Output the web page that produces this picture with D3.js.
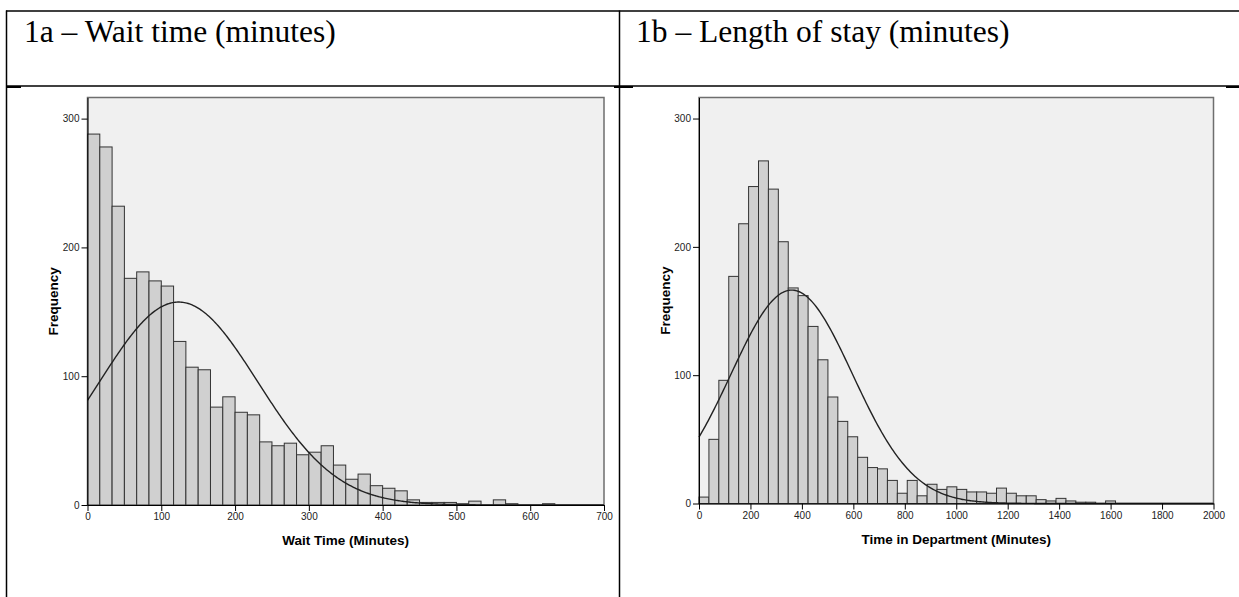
<!DOCTYPE html>
<html>
<head>
<meta charset="utf-8">
<script src="https://cdn.jsdelivr.net/npm/d3@7"></script>
<style>
  body { margin: 0; background: #fff; }
  .cell-title { font-family: 'Times New Roman', 'Liberation Serif', serif; font-size: 31.5px; fill: #000; }
  .hist__axis text { font-family: Arial, 'Liberation Sans', sans-serif; font-size: 10px; fill: #222; }
  .hist__axis path, .hist__axis line { stroke: #000; }
  .hist__label { font-family: Arial, 'Liberation Sans', sans-serif; font-size: 13.5px; font-weight: bold; fill: #000; }
</style>
</head>
<body>
<div id="chart"></div>
<script>
// 1a - wait time, bins of 700/42 minutes starting at 0
const waitCounts = [288, 278, 232, 176, 181, 174, 170, 127, 107, 105, 76, 84, 72, 70, 49, 46, 48, 39, 41, 46,
  31, 20, 24, 15, 13, 11, 4, 2, 2, 2, 1, 3, 0, 4, 1, 0, 0, 1];
const waitBinWidth = 700 / 42;
const waitTicks = [0, 100, 200, 300, 400, 500, 600, 700];
const waitMean = 123.5;
const waitSd = 107.3;

// 1b - length of stay, bins of ~38.55 minutes starting at 0
const stayCounts = [5, 50, 96, 177, 218, 247, 267, 245, 204, 168, 162, 138, 112, 83, 64, 52, 36, 28, 27, 18,
  8, 18, 6, 15, 11, 13, 11, 9, 9, 8, 12, 8, 6, 6, 3, 2, 4, 2, 1, 1, 0, 2];
const stayBinWidth = 38.55;
const stayTicks = [0, 200, 400, 600, 800, 1000, 1200, 1400, 1600, 1800, 2000];
const stayMean = 360.5;
const staySd = 236;

const freqTicks = [0, 100, 200, 300];

const width = 1239;
const height = 597;

const svg = d3.select('#chart')
  .append('svg')
  .attr('width', width)
  .attr('height', height);

svg.append('rect')
  .attr('width', width)
  .attr('height', height)
  .attr('fill', '#fff');

// table borders of the document the charts sit in
const table = svg.append('g')
  .attr('stroke', '#000')
  .attr('stroke-width', 1.5);

table.append('line').attr('x1', 6).attr('x2', width).attr('y1', 11).attr('y2', 11);
table.append('line').attr('x1', 6).attr('x2', width).attr('y1', 86).attr('y2', 86);
table.append('line').attr('x1', 6.5).attr('x2', 6.5).attr('y1', 10.5).attr('y2', height);
table.append('line').attr('x1', 619.5).attr('x2', 619.5).attr('y1', 10.5).attr('y2', height);
[[6, 21], [614, 633], [1226, 1239]].forEach(([a, b]) => {
  table.append('line').attr('x1', a).attr('x2', b).attr('y1', 87).attr('y2', 87).attr('stroke-width', 2);
});

svg.append('text').attr('class', 'cell-title').attr('x', 24).attr('y', 42)
  .text('1a – Wait time (minutes)');
svg.append('text').attr('class', 'cell-title').attr('x', 636).attr('y', 42)
  .text('1b – Length of stay (minutes)');

class Histogram {
  constructor(parent, options) {
    const defaults = {
      left: 87.5,
      right: 604,
      top: 97.5,
      bottom: 505,
      yMax: 316.4,
      labelX: 53,
    };

    this.parent = parent;
    Object.assign(this, defaults, options);

    this.init();
  }

  init() {
    const { parent, left, right, top, bottom } = this;

    this.g = parent.append('g');

    this.scaleX = d3.scaleLinear()
      .domain([0, this.xMax])
      .range([left, right]);

    this.scaleY = d3.scaleLinear()
      .domain([0, this.yMax])
      .range([bottom, top]);

    this.g.append('rect')
      .attr('x', left)
      .attr('y', top)
      .attr('width', right - left)
      .attr('height', bottom - top)
      .attr('fill', '#f0f0f0')
      .attr('stroke', '#6e6e6e')
      .attr('stroke-width', 1.5);
  }

  render() {
    const { g, scaleX, scaleY, counts, binWidth, mean, sd } = this;

    const bins = counts.map((c, i) => ({ x0: i * binWidth, x1: (i + 1) * binWidth, count: c }))
      .filter(d => d.count > 0);

    g.append('g')
      .selectAll('rect')
      .data(bins)
      .join('rect')
      .attr('x', d => scaleX(d.x0))
      .attr('y', d => scaleY(d.count))
      .attr('width', d => scaleX(d.x1) - scaleX(d.x0))
      .attr('height', d => scaleY(0) - scaleY(d.count))
      .attr('fill', '#d0d0d0')
      .attr('stroke', '#333')
      .attr('stroke-width', 1);

    // fitted normal curve, scaled to counts per bin
    const n = d3.sum(counts);
    const density = x => n * binWidth * Math.exp(-((x - mean) ** 2) / (2 * sd * sd)) / (sd * Math.sqrt(2 * Math.PI));
    const xs = d3.range(0, this.xMax + this.xMax / 400, this.xMax / 400);

    const line = d3.line()
      .x(x => scaleX(x))
      .y(x => scaleY(density(x)));

    g.append('path')
      .datum(xs)
      .attr('d', line)
      .attr('fill', 'none')
      .attr('stroke', '#222')
      .attr('stroke-width', 1.4);

    const xAxis = d3.axisBottom(scaleX)
      .tickValues(this.ticks)
      .tickFormat(d3.format('d'))
      .tickSize(6)
      .tickSizeOuter(0)
      .tickPadding(2);

    const yAxis = d3.axisLeft(scaleY)
      .tickValues(freqTicks)
      .tickFormat(d3.format('d'))
      .tickSize(6)
      .tickSizeOuter(0)
      .tickPadding(2);

    g.append('g')
      .attr('class', 'hist__axis')
      .attr('transform', `translate(0, ${this.bottom})`)
      .call(xAxis);

    g.append('g')
      .attr('class', 'hist__axis')
      .attr('transform', `translate(${this.left}, 0)`)
      .call(yAxis);

    g.append('text')
      .attr('class', 'hist__label')
      .attr('x', (this.left + this.right) / 2)
      .attr('y', this.bottom + 40)
      .attr('text-anchor', 'middle')
      .text(this.xLabel);

    g.append('text')
      .attr('class', 'hist__label')
      .attr('transform', `translate(${this.labelX}, ${(this.top + this.bottom) / 2}) rotate(-90)`)
      .attr('text-anchor', 'middle')
      .attr('dominant-baseline', 'central')
      .text('Frequency');
  }
}

new Histogram(svg, {
  counts: waitCounts,
  binWidth: waitBinWidth,
  mean: waitMean,
  sd: waitSd,
  xMax: 700,
  ticks: waitTicks,
  xLabel: 'Wait Time (Minutes)',
}).render();

new Histogram(svg, {
  left: 699,
  right: 1213.5,
  bottom: 503.5,
  labelX: 665,
  counts: stayCounts,
  binWidth: stayBinWidth,
  mean: stayMean,
  sd: staySd,
  xMax: 2000,
  ticks: stayTicks,
  xLabel: 'Time in Department (Minutes)',
}).render();
</script>
</body>
</html>
